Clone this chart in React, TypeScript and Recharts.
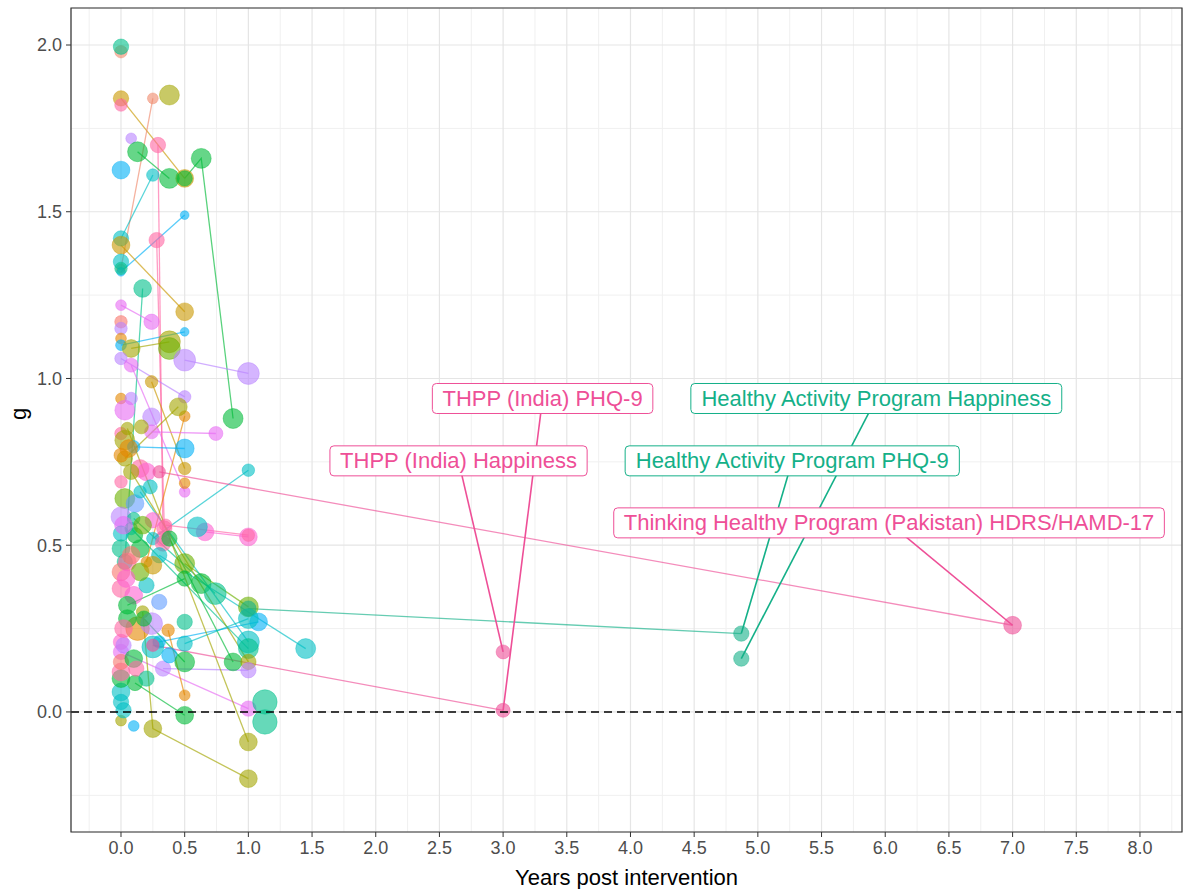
import { ComposedChart, Scatter, XAxis, YAxis, ZAxis, CartesianGrid, ReferenceLine, ReferenceDot, ReferenceArea } from 'recharts';

type Pt = { t: number; g: number; n: number };

// axis ticks
const xTicks = [0, 0.5, 1, 1.5, 2, 2.5, 3, 3.5, 4, 4.5, 5, 5.5, 6, 6.5, 7, 7.5, 8];
const xMinor = [-0.25, 0.25, 0.75, 1.25, 1.75, 2.25, 2.75, 3.25, 3.75, 4.25, 4.75, 5.25, 5.75, 6.25, 6.75, 7.25, 7.75, 8.25];
const yTicks = [0, 0.5, 1, 1.5, 2];
const yMinor = [-0.25, 0.25, 0.75, 1.25, 1.75];

// labelled studies (t = years post intervention, g = effect size, n = weight)
const thppIndiaPhq9: Pt[] = [{ t: 0.25, g: 0.2, n: 4 }, { t: 3.0, g: 0.005, n: 4.5 }];
const thppIndiaHappiness: Pt[] = [{ t: 3.0, g: 0.18, n: 4.5 }];
const hapPhq9: Pt[] = [{ t: 1.0, g: 0.31, n: 5 }, { t: 4.87, g: 0.235, n: 5 }];
const hapHappiness: Pt[] = [{ t: 4.87, g: 0.16, n: 5 }];
const thpPakistan: Pt[] = [{ t: 0.3, g: 0.72, n: 4 }, { t: 7.0, g: 0.26, n: 6 }];

// other studies
const s01: Pt[] = [{ t: 0, g: 1.98, n: 4 }];
const s02: Pt[] = [{ t: 0, g: 1.995, n: 5 }];
const s03: Pt[] = [{ t: 0, g: 1.84, n: 5 }, { t: 0.5, g: 1.6, n: 6 }];
const s04: Pt[] = [{ t: 0, g: 1.82, n: 4 }];
const s05: Pt[] = [{ t: 0, g: 1.33, n: 3 }, { t: 0.25, g: 1.84, n: 3.5 }];
const s06: Pt[] = [{ t: 0.38, g: 1.85, n: 7 }];
const s07: Pt[] = [{ t: 0.08, g: 1.72, n: 3.5 }];
const s08: Pt[] = [{ t: 0.29, g: 1.7, n: 5 }, { t: 0.33, g: 0.52, n: 5 }];
const s09: Pt[] = [{ t: 0.13, g: 1.68, n: 7 }, { t: 0.38, g: 1.6, n: 7 }];
const s10: Pt[] = [{ t: 0.5, g: 1.6, n: 5 }, { t: 0.63, g: 1.66, n: 7 }, { t: 0.88, g: 0.88, n: 7 }];
const s11: Pt[] = [{ t: 0, g: 1.42, n: 5 }, { t: 0.25, g: 1.61, n: 4 }];
const s12: Pt[] = [{ t: 0, g: 1.625, n: 6 }];
const s13: Pt[] = [{ t: 0, g: 1.32, n: 3 }, { t: 0.5, g: 1.49, n: 3 }];
const s14: Pt[] = [{ t: 0.28, g: 1.415, n: 5 }, { t: 0.34, g: 0.55, n: 5 }];
const s15: Pt[] = [{ t: 0, g: 1.4, n: 6 }, { t: 0.5, g: 1.2, n: 6 }];
const s16: Pt[] = [{ t: 0, g: 1.35, n: 5 }];
const s17: Pt[] = [{ t: 0, g: 1.33, n: 4 }];
const s18: Pt[] = [{ t: 0.17, g: 1.27, n: 6 }, { t: 0.03, g: 0.45, n: 5 }];
const s19: Pt[] = [{ t: 0, g: 1.22, n: 3.5 }, { t: 0.24, g: 1.17, n: 5 }];
const s20: Pt[] = [{ t: 0, g: 1.17, n: 4 }];
const s21: Pt[] = [{ t: 0, g: 1.15, n: 4 }];
const s22: Pt[] = [{ t: 0, g: 1.12, n: 3.5 }];
const s23: Pt[] = [{ t: 0, g: 1.1, n: 3.5 }, { t: 0.5, g: 1.14, n: 3 }];
const s24: Pt[] = [{ t: 0.08, g: 1.09, n: 6 }, { t: 0.38, g: 1.11, n: 8 }];
const s25: Pt[] = [{ t: 0.38, g: 1.09, n: 8 }];
const s26: Pt[] = [{ t: 0.5, g: 1.055, n: 8 }, { t: 1.0, g: 1.015, n: 8 }];
const s27: Pt[] = [{ t: 0, g: 1.06, n: 4 }, { t: 0.5, g: 0.945, n: 4 }];
const s28: Pt[] = [{ t: 0.08, g: 1.04, n: 4.5 }, { t: 0.5, g: 0.66, n: 3.5 }];
const s29: Pt[] = [{ t: 0.24, g: 0.99, n: 4 }, { t: 0.5, g: 0.73, n: 4 }];
const s30: Pt[] = [{ t: 0.2, g: 0.45, n: 3.5 }, { t: 0.5, g: 0.887, n: 3.5 }];
const s31: Pt[] = [{ t: 0.03, g: 0.76, n: 5 }, { t: 0.45, g: 0.915, n: 6 }];
const s32: Pt[] = [{ t: 0, g: 0.94, n: 3.5 }];
const s33: Pt[] = [{ t: 0.08, g: 0.94, n: 4 }];
const s34: Pt[] = [{ t: 0.03, g: 0.905, n: 7 }];
const s35: Pt[] = [{ t: 0.24, g: 0.885, n: 6 }];
const s36: Pt[] = [{ t: 0, g: 0.835, n: 4 }];
const s37: Pt[] = [{ t: 0.24, g: 0.84, n: 4.5 }, { t: 0.745, g: 0.835, n: 4.5 }];
const s38: Pt[] = [{ t: 0.03, g: 0.815, n: 7 }];
const s39: Pt[] = [{ t: 0.16, g: 0.855, n: 4.5 }];
const s40: Pt[] = [{ t: 0.1, g: 0.795, n: 4 }, { t: 0.5, g: 0.79, n: 6.5 }];
const s41: Pt[] = [{ t: 0, g: 0.77, n: 4.5 }];
const s42: Pt[] = [{ t: 0.5, g: 0.686, n: 3.5 }];
const s43: Pt[] = [{ t: 0.15, g: 0.73, n: 6 }];
const s44: Pt[] = [{ t: 0.2, g: 0.72, n: 6 }];
const s45: Pt[] = [{ t: 0.25, g: 0.52, n: 4 }, { t: 1.0, g: 0.725, n: 4 }];
const s46: Pt[] = [{ t: 0.23, g: 0.675, n: 4.5 }];
const s47: Pt[] = [{ t: 0, g: 0.69, n: 4 }];
const s48: Pt[] = [{ t: 0.03, g: 0.64, n: 7 }];
const s49: Pt[] = [{ t: 0.11, g: 0.625, n: 6 }];
const s50: Pt[] = [{ t: 0, g: 0.585, n: 7 }];
const s51: Pt[] = [{ t: 0.25, g: 0.575, n: 5 }];
const s52: Pt[] = [{ t: 0.66, g: 0.54, n: 6 }, { t: 1.0, g: 0.525, n: 6 }];
const s53: Pt[] = [{ t: 0.6, g: 0.555, n: 7 }];
const s54: Pt[] = [{ t: 0.35, g: 0.56, n: 4 }, { t: 1.0, g: 0.53, n: 4 }];
const s55: Pt[] = [{ t: 0.11, g: 0.53, n: 5 }];
const s56: Pt[] = [{ t: 0, g: 0.535, n: 5 }];
const s57: Pt[] = [{ t: 0.33, g: 0.505, n: 5 }];
const s58: Pt[] = [{ t: 0, g: 0.49, n: 6 }];
const s59: Pt[] = [{ t: 0, g: 0.42, n: 6 }];
const s60: Pt[] = [{ t: 0.05, g: 0.45, n: 6 }];
const s61: Pt[] = [{ t: 0.15, g: 0.49, n: 6 }];
const s62: Pt[] = [{ t: 0.5, g: 0.445, n: 7 }, { t: 1.0, g: 0.315, n: 7 }];
const s63: Pt[] = [{ t: 0.63, g: 0.385, n: 7 }];
const s64: Pt[] = [{ t: 0.1, g: 0.58, n: 4 }, { t: 0.74, g: 0.355, n: 8 }];
const s65: Pt[] = [{ t: 0.15, g: 0.66, n: 4 }, { t: 1.0, g: 0.21, n: 8 }];
const s66: Pt[] = [{ t: 0.08, g: 0.55, n: 4 }, { t: 1.0, g: 0.19, n: 7 }];
const s67: Pt[] = [{ t: 0.3, g: 0.21, n: 4 }, { t: 1.08, g: 0.27, n: 6 }];
const s68: Pt[] = [{ t: 0.3, g: 0.47, n: 5 }, { t: 1.45, g: 0.19, n: 7 }];
const s69: Pt[] = [{ t: 0.38, g: 0.52, n: 5 }, { t: 0.88, g: 0.15, n: 6 }];
const s70: Pt[] = [{ t: 0.08, g: 0.72, n: 5 }, { t: 1.0, g: 0.15, n: 5 }];
const s71: Pt[] = [{ t: 0.33, g: 0.13, n: 5 }, { t: 1.0, g: 0.125, n: 5 }];
const s72: Pt[] = [{ t: 0, g: 0.18, n: 5 }, { t: 1.0, g: 0.01, n: 5 }];
const s73: Pt[] = [{ t: 0.37, g: 0.245, n: 4 }, { t: 0.5, g: 0.05, n: 3.5 }];
const s74: Pt[] = [{ t: 0.11, g: 0.087, n: 5 }, { t: 0.5, g: -0.01, n: 6 }];
const s75: Pt[] = [{ t: 0.17, g: 0.3, n: 4 }, { t: 0.25, g: -0.05, n: 6 }, { t: 1.0, g: -0.2, n: 6 }];
const s76: Pt[] = [{ t: 0.05, g: 0.85, n: 4 }, { t: 1.0, g: -0.09, n: 6 }];
const s77: Pt[] = [{ t: 1.13, g: 0.03, n: 9.5 }];
const s78: Pt[] = [{ t: 1.13, g: -0.03, n: 9.5 }];
const s79: Pt[] = [{ t: 0, g: -0.026, n: 3.5 }];
const s80: Pt[] = [{ t: 0.1, g: -0.042, n: 3.5 }];
const s81: Pt[] = [{ t: 0, g: 0.06, n: 6 }];
const s82: Pt[] = [{ t: 0, g: 0.1, n: 6 }];
const s83: Pt[] = [{ t: 0, g: 0.03, n: 5 }];
const s84: Pt[] = [{ t: 0, g: 0.12, n: 6 }];
const s85: Pt[] = [{ t: 0, g: 0.15, n: 5 }];
const s86: Pt[] = [{ t: 0, g: 0.21, n: 5 }];
const s87: Pt[] = [{ t: 0.02, g: 0.2, n: 5 }];
const s88: Pt[] = [{ t: 0.1, g: 0.16, n: 6 }];
const s89: Pt[] = [{ t: 0.13, g: 0.25, n: 9 }];
const s90: Pt[] = [{ t: 0.24, g: 0.265, n: 8 }];
const s91: Pt[] = [{ t: 0.25, g: 0.195, n: 8 }];
const s92: Pt[] = [{ t: 0.38, g: 0.17, n: 5 }];
const s93: Pt[] = [{ t: 0.5, g: 0.27, n: 5 }];
const s94: Pt[] = [{ t: 0.5, g: 0.205, n: 5 }, { t: 1.0, g: 0.28, n: 7 }];
const s95: Pt[] = [{ t: 0.18, g: 0.28, n: 5 }, { t: 0.5, g: 0.15, n: 7 }];
const s96: Pt[] = [{ t: 0, g: 0.37, n: 6 }];
const s97: Pt[] = [{ t: 0.1, g: 0.35, n: 6 }];
const s98: Pt[] = [{ t: 0.2, g: 0.38, n: 5 }];
const s99: Pt[] = [{ t: 0.15, g: 0.42, n: 6 }];
const s100: Pt[] = [{ t: 0.25, g: 0.44, n: 6 }];
const s101: Pt[] = [{ t: 0.3, g: 0.33, n: 5 }];
const s102: Pt[] = [{ t: 0.05, g: 0.32, n: 6 }, { t: 0.5, g: 0.4, n: 5 }];
const s103: Pt[] = [{ t: 0.02, g: 0.56, n: 6 }];
const s104: Pt[] = [{ t: 0.05, g: 0.28, n: 6 }];
const s105: Pt[] = [{ t: 0.12, g: 0.13, n: 5 }];
const s106: Pt[] = [{ t: 0.02, g: 0.005, n: 5 }];
const s107: Pt[] = [{ t: 0.06, g: 0.79, n: 6 }];
const s108: Pt[] = [{ t: 0.08, g: 0.47, n: 6 }];
const s109: Pt[] = [{ t: 0.17, g: 0.56, n: 6 }];
const s110: Pt[] = [{ t: 0.02, g: 0.25, n: 6 }];
const s111: Pt[] = [{ t: 0.2, g: 0.1, n: 5 }];
const s112: Pt[] = [{ t: 0.04, g: 0.4, n: 6 }];

const palette: Record<string, string> = {
  red: '#F8766D', salmon: '#F0896B', orange: '#E58700', gold: '#C99800', olive: '#A3A500',
  lime: '#6BB100', green: '#00BA38', jade: '#00C08B', teal: '#00BFC4', sky: '#00B0F6',
  blue: '#619CFF', lav: '#B983FF', violet: '#E76BF3', magenta: '#FD61D1', pink: '#FF67A4',
  rose: '#EE4F97', hap: '#14B088',
};

const studies = [
  s01, s02, s03, s04, s05, s06, s07, s08, s09, s10, s11, s12, s13, s14, s15, s16, s17, s18, s19, s20,
  s21, s22, s23, s24, s25, s26, s27, s28, s29, s30, s31, s32, s33, s34, s35, s36, s37, s38, s39, s40,
  s41, s42, s43, s44, s45, s46, s47, s48, s49, s50, s51, s52, s53, s54, s55, s56, s57, s58, s59, s60,
  s61, s62, s63, s64, s65, s66, s67, s68, s69, s70, s71, s72, s73, s74, s75, s76, s77, s78, s79, s80,
  s81, s82, s83, s84, s85, s86, s87, s88, s89, s90, s91, s92, s93, s94, s95, s96, s97, s98, s99, s100,
  s101, s102, s103, s104, s105, s106, s107, s108, s109, s110, s111, s112,
  thppIndiaPhq9, thppIndiaHappiness, hapPhq9, hapHappiness, thpPakistan,
];
const studyColour = [
  'salmon', 'jade', 'gold', 'pink', 'salmon', 'olive', 'lav', 'pink', 'green', 'green', 'teal', 'sky', 'sky', 'pink', 'gold', 'teal', 'jade', 'jade', 'violet', 'red',
  'lav', 'orange', 'sky', 'olive', 'lime', 'lav', 'lav', 'violet', 'gold', 'orange', 'olive', 'orange', 'lav', 'violet', 'lav', 'pink', 'violet', 'olive', 'olive', 'sky',
  'orange', 'orange', 'pink', 'magenta', 'teal', 'teal', 'pink', 'lime', 'blue', 'lav', 'magenta', 'magenta', 'teal', 'pink', 'green', 'teal', 'pink', 'jade', 'red', 'pink',
  'green', 'lime', 'green', 'jade', 'teal', 'jade', 'sky', 'teal', 'green', 'olive', 'lav', 'violet', 'orange', 'green', 'olive', 'olive', 'jade', 'jade', 'olive', 'sky',
  'teal', 'green', 'teal', 'pink', 'red', 'magenta', 'lav', 'green', 'orange', 'lav', 'teal', 'sky', 'jade', 'teal', 'green', 'pink', 'magenta', 'teal', 'lime', 'gold',
  'blue', 'green', 'violet', 'green', 'pink', 'teal', 'orange', 'red', 'lime', 'pink', 'jade', 'magenta',
  'rose', 'rose', 'hap', 'hap', 'rose',
];

// ggrepel style labels: text, label centre, and which labelled study point it points at
const labelTexts = ['THPP (India) PHQ-9', 'THPP (India) Happiness', 'Healthy Activity Program Happiness', 'Healthy Activity Program PHQ-9', 'Thinking Healthy Program (Pakistan) HDRS/HAMD-17'];
const labelAt = [{ t: 3.31, g: 0.94 }, { t: 2.65, g: 0.753 }, { t: 5.93, g: 0.94 }, { t: 5.27, g: 0.753 }, { t: 6.03, g: 0.567 }];
const labelPoint = [thppIndiaPhq9[1], thppIndiaHappiness[0], hapHappiness[0], hapPhq9[1], thpPakistan[1]];
const labelColour = ['rose', 'rose', 'hap', 'hap', 'rose'];

const LABEL_FONT = 22;
function textWidth(text: string) {
  const ctx = document.createElement('canvas').getContext('2d');
  if (!ctx) return text.length * LABEL_FONT * 0.5;
  ctx.font = `${LABEL_FONT}px "Liberation Sans", Arial, sans-serif`;
  return ctx.measureText(text).width;
}

function LabelBox({ cx, cy, text, colour }: { cx: number; cy: number; text: string; colour: string }) {
  const w = textWidth(text) + 20;
  const h = 30;
  return (
    <g>
      <rect x={cx - w / 2} y={cy - h / 2} width={w} height={h} rx={4} fill="#fff" stroke={colour} strokeWidth={1} />
      <text x={cx} y={cy + 7.5} textAnchor="middle" fontSize={LABEL_FONT} fill={colour}>{text}</text>
    </g>
  );
}

const dotShape = (colour: string) => (p: any) => {
  if (p.cx == null) return <g />;
  const r = p.size != null ? Math.sqrt(p.size / Math.PI) : p.width / 2;
  return <circle cx={p.cx} cy={p.cy} r={r} fill={colour} fillOpacity={0.6} stroke={colour} strokeOpacity={0.4} strokeWidth={1} />;
};

export default function App() {
  return (
    <div style={{ position: 'absolute', left: 0, top: 0, fontFamily: '"Liberation Sans", Arial, sans-serif' }}>
      <ComposedChart width={1184} height={889} margin={{ top: 8, right: 2, bottom: 0, left: 0 }}>
        {xMinor.map((v) => (
          <ReferenceLine key={'xm' + v} x={v} stroke="#f0f0f0" strokeWidth={1} ifOverflow="visible" zIndex={-100} />
        ))}
        {yMinor.map((v) => (
          <ReferenceLine key={'ym' + v} y={v} stroke="#f0f0f0" strokeWidth={1} ifOverflow="visible" zIndex={-100} />
        ))}
        <CartesianGrid stroke="#e5e5e5" strokeWidth={1.2} />
        <XAxis
          type="number"
          dataKey="t"
          domain={[-0.3925, 8.33]}
          ticks={xTicks}
          tickFormatter={(v: number) => v.toFixed(1)}
          allowDataOverflow
          axisLine={false}
          tickLine={{ stroke: '#333' }}
          tickSize={5}
          tickMargin={4}
          tick={{ fill: '#4d4d4d', fontSize: 18 }}
          height={57}
          label={{ value: 'Years post intervention', position: 'insideBottom', offset: 4, fill: '#000', fontSize: 22 }}
        />
        <YAxis
          type="number"
          dataKey="g"
          domain={[-0.36, 2.111]}
          ticks={yTicks}
          tickFormatter={(v: number) => v.toFixed(1)}
          allowDataOverflow
          axisLine={false}
          tickLine={{ stroke: '#333' }}
          tickSize={5}
          tickMargin={4}
          tick={{ fill: '#4d4d4d', fontSize: 18 }}
          width={71}
          label={{ value: 'g', angle: -90, position: 'insideLeft', offset: 18, fill: '#000', fontSize: 22 }}
        />
        <ZAxis type="number" dataKey="n" domain={[3, 9]} range={[60, 470]} />
        {studies.map((s, i) => (
          <Scatter
            key={'l' + i}
            data={s}
            line={{ stroke: palette[studyColour[i]], strokeWidth: 1.3, strokeOpacity: 0.65 }}
            shape={() => <g />}
            isAnimationActive={false}
          />
        ))}
        {studies.map((s, i) => (
          <Scatter key={'p' + i} data={s} shape={dotShape(palette[studyColour[i]])} isAnimationActive={false} />
        ))}
        <ReferenceLine y={0} stroke="#000" strokeWidth={1.6} strokeDasharray="8 5" zIndex={700} />
        {labelAt.map((a, i) => (
          <ReferenceLine
            key={'seg' + i}
            segment={[{ x: labelPoint[i].t, y: labelPoint[i].g }, { x: a.t, y: a.g }]}
            stroke={palette[labelColour[i]]}
            strokeWidth={1.6}
            ifOverflow="visible"
            zIndex={800}
          />
        ))}
        {labelAt.map((a, i) => (
          <ReferenceDot
            key={'lab' + i}
            x={a.t}
            y={a.g}
            r={1}
            ifOverflow="visible"
            zIndex={900}
            shape={(p: any) => <LabelBox cx={p.cx} cy={p.cy} text={labelTexts[i]} colour={palette[labelColour[i]]} />}
          />
        ))}
        <ReferenceArea x1={-0.3925} x2={8.33} y1={-0.36} y2={2.111} fill="none" stroke="#333" strokeWidth={1.2} ifOverflow="visible" zIndex={1000} />
      </ComposedChart>
    </div>
  );
}
